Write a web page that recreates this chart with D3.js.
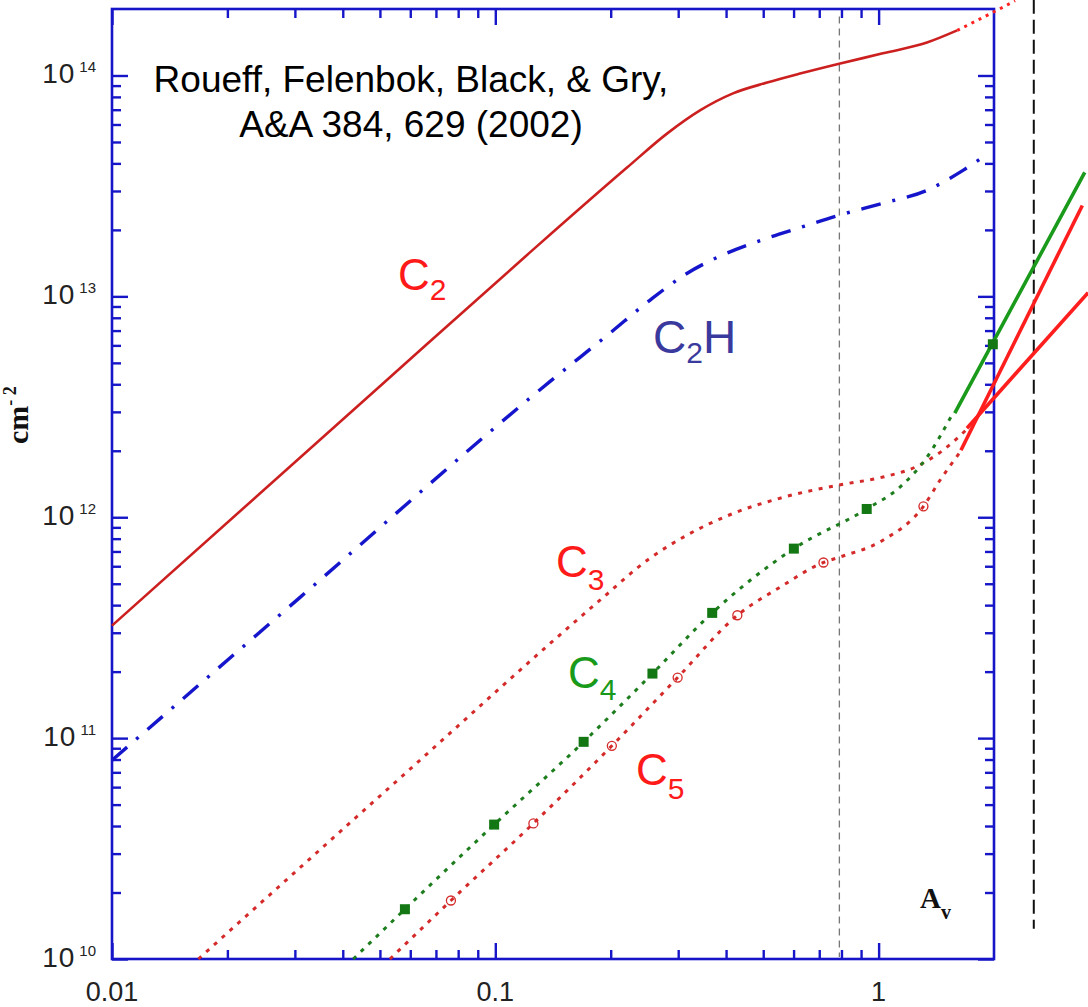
<!DOCTYPE html>
<html><head><meta charset="utf-8">
<script src="https://cdn.jsdelivr.net/npm/d3@7"></script>
<style>body{margin:0;background:#fff;} svg{display:block;}</style>
</head><body>
<svg id="chart" width="1088" height="1007"></svg>
<script>
// ---------- data ----------
const xTickValues = [0.01, 0.1, 1];
const xTickLabels = ["0.01", "0.1", "1"];
const yTickValues = [1e10, 1e11, 1e12, 1e13, 1e14];
const yTickExponents = ["10", "11", "12", "13", "14"];

const c2Av = [0.01, 0.05, 0.12, 0.221, 0.281, 0.342, 0.417, 0.512, 0.624, 0.789, 1.026, 1.337, 1.603];
const c2N  = [3.23e11, 3.92e12, 1.52e13, 3.84e13, 5.47e13, 6.95e13, 8.30e13, 9.29e13, 1.02e14, 1.13e14, 1.26e14, 1.41e14, 1.60e14];
const c2ExtAv = [1.603, 1.986, 2.27];
const c2ExtN  = [1.60e14, 1.93e14, 2.18e14];

const c2hAv = [0.01, 0.031, 0.139, 0.199, 0.253, 0.316, 0.379, 0.491, 0.624, 0.789, 1.026, 1.337, 1.66, 1.90];
const c2hN  = [7.94e10, 4.35e11, 4.12e12, 6.81e12, 9.60e12, 1.27e13, 1.50e13, 1.79e13, 2.05e13, 2.33e13, 2.64e13, 3.02e13, 3.72e13, 4.35e13];

const c3Av = [0.0168, 0.0564, 0.1875, 0.253, 0.316, 0.417, 0.563, 0.789, 1.026, 1.259, 1.472, 1.71];
const c3N  = [1.0e10, 6.59e10, 4.21e11, 6.52e11, 8.29e11, 1.04e12, 1.23e12, 1.40e12, 1.52e12, 1.70e12, 2.01e12, 2.53e12];

const c4Av = [0.0426, 0.0581, 0.0993, 0.170, 0.257, 0.368, 0.601, 0.931, 1.137, 1.337, 1.563];
const c4N  = [1.0e10, 1.68e10, 4.06e10, 9.62e10, 1.96e11, 3.69e11, 7.21e11, 1.09e12, 1.37e12, 1.87e12, 2.96e12];
const c4MarkAv = [0.0581, 0.0993, 0.170, 0.257, 0.368, 0.601, 0.931, 1.986];
const c4MarkN  = [1.68e10, 4.06e10, 9.62e10, 1.96e11, 3.69e11, 7.21e11, 1.09e12, 6.07e12];

const c5Av = [0.0531, 0.0766, 0.1257, 0.2014, 0.299, 0.428, 0.553, 0.718, 0.789, 1.026, 1.309, 1.446, 1.63];
const c5N  = [1.0e10, 1.84e10, 4.11e10, 9.23e10, 1.88e11, 3.60e11, 4.82e11, 6.24e11, 6.59e11, 7.87e11, 1.12e12, 1.47e12, 1.97e12];
const c5MarkAv = [0.0766, 0.1257, 0.2014, 0.299, 0.428, 0.718, 1.309];
const c5MarkN  = [1.84e10, 4.11e10, 9.23e10, 1.88e11, 3.60e11, 6.24e11, 1.12e12];

// straight extrapolations beyond the frame
const c4ExtAv = [1.58, 3.45];  const c4ExtN = [2.96e12, 3.64e13];
const c3ExtAv = [1.70, 3.52];  const c3ExtN = [2.53e12, 1.04e13];
const c5ExtAv = [1.64, 3.40];  const c5ExtN = [2.01e12, 2.58e13];

const grayLineAv = 0.79;
const blackLineAv = 2.54;
const blackLineN = [2.2e14, 1.37e10];

const citation = ["Roueff, Felenbok, Black, & Gry,", "A&A 384, 629 (2002)"];

// ---------- drawing ----------
const svg = d3.select("#chart");
const x = d3.scaleLog().domain([0.01, 2]).range([112, 994]);
const y = d3.scaleLog().domain([1e10, 2e14]).range([959, 9]);
const blue = "#1616c8";
const sans = "'Liberation Sans', Arial, sans-serif";
const serif = "'Liberation Serif', 'Times New Roman', serif";

const xMinor = [];
for (let e = -2; e <= 0; e++) for (let k = 2; k <= 9; k++) { const v = k * Math.pow(10, e); if (v > 0.0100001 && v < 1.999) xMinor.push(v); }
const yMinor = [];
for (let e = 10; e <= 14; e++) for (let k = 2; k <= 9; k++) { const v = k * Math.pow(10, e); if (v < 1.99e14) yMinor.push(v); }

function drawAxis(gen, transform) {
  const g = svg.append("g").attr("transform", transform).call(gen);
  g.select(".domain").remove();
  g.selectAll("text").remove();
  g.selectAll("line").attr("stroke", blue).attr("stroke-width", 2.4);
}
drawAxis(d3.axisBottom(x).tickValues(xTickValues).tickSize(-16).tickFormat(""), "translate(0,959)");
drawAxis(d3.axisBottom(x).tickValues(xMinor).tickSize(-9).tickFormat(""), "translate(0,959)");
drawAxis(d3.axisTop(x).tickValues(xTickValues).tickSize(-16).tickFormat(""), "translate(0,9)");
drawAxis(d3.axisTop(x).tickValues(xMinor).tickSize(-9).tickFormat(""), "translate(0,9)");
drawAxis(d3.axisLeft(y).tickValues(yTickValues).tickSize(-16).tickFormat(""), "translate(112,0)");
drawAxis(d3.axisLeft(y).tickValues(yMinor).tickSize(-9).tickFormat(""), "translate(112,0)");
drawAxis(d3.axisRight(y).tickValues(yTickValues).tickSize(-16).tickFormat(""), "translate(994,0)");
drawAxis(d3.axisRight(y).tickValues(yMinor).tickSize(-9).tickFormat(""), "translate(994,0)");

svg.append("rect").attr("x", x(0.01)).attr("y", y(2e14))
  .attr("width", x(2) - x(0.01)).attr("height", y(1e10) - y(2e14))
  .attr("fill", "none").attr("stroke", blue).attr("stroke-width", 2.6);

// reference vertical lines
svg.append("line").attr("x1", x(grayLineAv)).attr("x2", x(grayLineAv))
  .attr("y1", y(1.85e14)).attr("y2", y(1.02e10))
  .attr("stroke", "#777").attr("stroke-width", 1.3).attr("stroke-dasharray", "7,5");
svg.append("line").attr("x1", x(blackLineAv)).attr("x2", x(blackLineAv))
  .attr("y1", y(blackLineN[0])).attr("y2", y(blackLineN[1]))
  .attr("stroke", "#111").attr("stroke-width", 2).attr("stroke-dasharray", "14,6");

const line = d3.line().x(d => x(d[0])).y(d => y(d[1])).curve(d3.curveMonotoneX);
function path(av, n, color, width, dash) {
  svg.append("path").attr("d", line(d3.zip(av, n))).attr("fill", "none")
    .attr("stroke", color).attr("stroke-width", width)
    .attr("stroke-dasharray", dash || null);
}

path(c2Av, c2N, "#cc2020", 2.6);
path(c2ExtAv, c2ExtN, "#ff2020", 3, "3,5");
path(c2hAv, c2hN, "#1515cc", 3.4, "20,12,3,12");
path(c3Av, c3N, "#d42a2a", 3, "4,6.5");
path(c4Av, c4N, "#1d7d1d", 3, "4,6.5");
path(c5Av, c5N, "#d42a2a", 3, "4,6.5");
path(c4ExtAv, c4ExtN, "#1a9a1a", 3.6);
path(c3ExtAv, c3ExtN, "#ff1e1e", 3.6);
path(c5ExtAv, c5ExtN, "#ff1e1e", 3.6);

svg.append("g").selectAll("rect").data(d3.zip(c4MarkAv, c4MarkN)).join("rect")
  .attr("x", d => x(d[0]) - 5).attr("y", d => y(d[1]) - 5)
  .attr("width", 10).attr("height", 10).attr("fill", "#137813");
svg.append("g").selectAll("circle").data(d3.zip(c5MarkAv, c5MarkN)).join("circle")
  .attr("cx", d => x(d[0])).attr("cy", d => y(d[1])).attr("r", 4.5)
  .attr("fill", "none").attr("stroke", "#d42a2a").attr("stroke-width", 1.3);

// tick labels
svg.append("g").selectAll("text").data(xTickValues).join("text")
  .attr("x", d => x(d)).attr("y", 1001).attr("text-anchor", "middle")
  .attr("font-family", sans).attr("font-size", 27).attr("fill", "#222")
  .text((d, i) => xTickLabels[i]);
const yl = svg.append("g").selectAll("text").data(yTickValues).join("text")
  .attr("x", 96).attr("y", d => y(d) + 8).attr("text-anchor", "end")
  .attr("font-family", sans).attr("fill", "#222");
yl.append("tspan").attr("font-size", 28).attr("letter-spacing", 1).text("10");
yl.append("tspan").attr("font-size", 15).attr("dx", 4).attr("dy", -11).text((d, i) => yTickExponents[i]);

// axis titles
const yt = svg.append("text").attr("transform", "translate(28,444) rotate(-90)")
  .attr("font-family", serif).attr("font-weight", "bold").attr("fill", "#111");
yt.append("tspan").attr("font-size", 30).text("cm");
yt.append("tspan").attr("font-size", 18).attr("dy", -12).text("- 2");

const xt = svg.append("text").attr("x", 920).attr("y", 908)
  .attr("font-family", serif).attr("font-weight", "bold").attr("fill", "#111");
xt.append("tspan").attr("font-size", 29).text("A");
xt.append("tspan").attr("font-size", 20).attr("dy", 11).text("v");

// citation
svg.append("g").selectAll("text").data(citation).join("text")
  .attr("x", 411).attr("y", (d, i) => 92 + i * 45).attr("text-anchor", "middle")
  .attr("font-family", sans).attr("font-size", 37).attr("fill", "#000").text(d => d);

// species labels
function label(xp, yp, color, parts) {
  const t = svg.append("text").attr("x", xp).attr("y", yp).attr("font-family", sans).attr("fill", color);
  parts.forEach(p => t.append("tspan").attr("font-size", p[1]).attr("dy", p[2]).text(p[0]));
}
label(398, 290, "#ff1a1a", [["C", 44, 0], ["2", 30, 10]]);
label(653, 353, "#3a3a9e", [["C", 46, 0], ["2", 30, 10], ["H", 46, -10]]);
label(556, 577, "#ff1a1a", [["C", 44, 0], ["3", 30, 13]]);
label(568, 688, "#1a9a1a", [["C", 44, 0], ["4", 30, 12]]);
label(636, 785, "#ff1a1a", [["C", 44, 0], ["5", 30, 14]]);
</script>
</body></html>
